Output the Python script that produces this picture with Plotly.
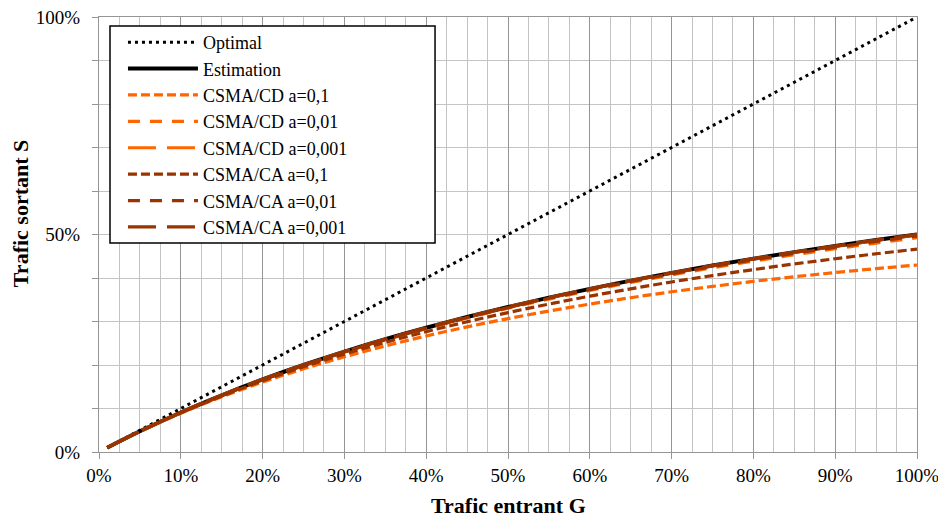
import plotly.graph_objects as go

# --- data ---
G = [0.01, 0.05, 0.10, 0.15, 0.20, 0.25, 0.30, 0.35, 0.40, 0.45, 0.50,
     0.55, 0.60, 0.65, 0.70, 0.75, 0.80, 0.85, 0.90, 0.95, 1.00]

optimal = [0.01, 0.05, 0.10, 0.15, 0.20, 0.25, 0.30, 0.35, 0.40, 0.45, 0.50,
           0.55, 0.60, 0.65, 0.70, 0.75, 0.80, 0.85, 0.90, 0.95, 1.00]

estimation = [0.0099, 0.0476, 0.0909, 0.1304, 0.1667, 0.2000, 0.2308, 0.2593, 0.2857, 0.3103, 0.3333,
              0.3548, 0.3750, 0.3939, 0.4118, 0.4286, 0.4444, 0.4595, 0.4737, 0.4872, 0.5000]

cd_01 = [0.0099, 0.0472, 0.0892, 0.1268, 0.1607, 0.1912, 0.2188, 0.2439, 0.2667, 0.2876, 0.3066,
         0.3240, 0.3400, 0.3547, 0.3683, 0.3807, 0.3922, 0.4028, 0.4125, 0.4215, 0.4299]
cd_001 = [0.0099, 0.0476, 0.0907, 0.1300, 0.1661, 0.1991, 0.2295, 0.2577, 0.2837, 0.3079, 0.3304,
          0.3515, 0.3713, 0.3897, 0.4071, 0.4235, 0.4388, 0.4534, 0.4672, 0.4802, 0.4925]
cd_0001 = [0.0099, 0.0476, 0.0909, 0.1304, 0.1666, 0.1999, 0.2307, 0.2591, 0.2855, 0.3101, 0.3330,
           0.3545, 0.3746, 0.3935, 0.4113, 0.4281, 0.4438, 0.4589, 0.4730, 0.4865, 0.4992]

ca_01 = [0.0099, 0.0474, 0.0901, 0.1287, 0.1638, 0.1958, 0.2250, 0.2519, 0.2766, 0.2994, 0.3205,
         0.3400, 0.3582, 0.3751, 0.3909, 0.4056, 0.4193, 0.4323, 0.4443, 0.4557, 0.4664]
ca_001 = [0.0099, 0.0476, 0.0908, 0.1302, 0.1664, 0.1996, 0.2302, 0.2585, 0.2848, 0.3092, 0.3320,
          0.3533, 0.3733, 0.3919, 0.4096, 0.4262, 0.4418, 0.4567, 0.4706, 0.4839, 0.4965]
ca_0001 = [0.0099, 0.0476, 0.0909, 0.1304, 0.1667, 0.2000, 0.2307, 0.2592, 0.2856, 0.3102, 0.3332,
           0.3547, 0.3748, 0.3937, 0.4116, 0.4284, 0.4441, 0.4592, 0.4734, 0.4869, 0.4996]

ORANGE = "#FF6600"
BROWN = "#993300"
FONT = "Liberation Serif"

series = [
    ("Optimal", optimal, "black", 3, "3px,4px"),
    ("Estimation", estimation, "black", 4, "solid"),
    ("CSMA/CD a=0,1", cd_01, ORANGE, 3.2, "9px,4px"),
    ("CSMA/CD a=0,01", cd_001, ORANGE, 3.2, "12px,10px"),
    ("CSMA/CD a=0,001", cd_0001, ORANGE, 3.2, "28px,11px"),
    ("CSMA/CA a=0,1", ca_01, BROWN, 3.2, "9px,4px"),
    ("CSMA/CA a=0,01", ca_001, BROWN, 3.2, "12px,10px"),
    ("CSMA/CA a=0,001", ca_0001, BROWN, 3.2, "28px,11px"),
]

fig = go.Figure()
for name, ys, color, width, dash in series:
    fig.add_trace(go.Scatter(
        x=G, y=ys, name=name, mode="lines", line_shape="spline",
        line=dict(color=color, width=width, dash=dash),
    ))

# the page body adds an 8px offset, so the figure is 8px smaller than the window
fig.update_layout(
    width=938, height=512,
    margin=dict(l=91, r=29, t=9, b=68),
    paper_bgcolor="white", plot_bgcolor="white",
    font=dict(family=FONT, size=19, color="black"),
    showlegend=True,
    legend=dict(
        x=0.0293, y=0.984, xanchor="left", yanchor="top",
        bgcolor="rgba(0,0,0,0)", borderwidth=0,
        font=dict(family=FONT, size=18, color="black"),
        itemwidth=70, tracegroupgap=0,
    ),
    # legend box
    shapes=[
        dict(type="rect", xref="paper", yref="paper",
             x0=0.01345, x1=0.4108, y0=0.4805, y1=0.9793,
             fillcolor="white", line=dict(color="black", width=1.5), layer="above"),
    ],
    annotations=[
        dict(text="<b>Trafic entrant G</b>", xref="paper", yref="paper",
             x=0.5, y=-0.122, xanchor="center", yanchor="middle",
             showarrow=False, font=dict(family=FONT, size=22)),
        dict(text="<b>Trafic sortant S</b>", xref="paper", yref="paper",
             x=-0.0966, y=0.549, xanchor="center", yanchor="middle",
             textangle=-90, showarrow=False, font=dict(family=FONT, size=22)),
    ],
)

fig.update_xaxes(
    range=[0, 1], dtick=0.1, tick0=0, tickformat=".0%", automargin=False,
    showgrid=True, gridcolor="#959595", gridwidth=1.3,
    minor=dict(dtick=0.025, showgrid=True, gridcolor="#C4C4C4", gridwidth=1.3),
    ticks="outside", ticklen=6, tickcolor="#959595", ticklabeloverflow="allow",
    showline=True, linecolor="#959595", linewidth=1.3, mirror=True,
    zeroline=False, tickfont=dict(family=FONT, size=19),
)
fig.update_yaxes(
    range=[0, 1], dtick=0.5, tick0=0, tickformat=".0%", automargin=False,
    showgrid=True, gridcolor="#C4C4C4", gridwidth=1.3,
    minor=dict(dtick=0.1, showgrid=True, gridcolor="#C4C4C4", gridwidth=1.3,
               ticks="outside", ticklen=6, tickcolor="#959595"),
    ticks="outside", ticklen=6, tickcolor="#959595", ticklabelstandoff=8,
    ticklabeloverflow="allow",
    showline=True, linecolor="#959595", linewidth=1.3, mirror=True,
    zeroline=False, tickfont=dict(family=FONT, size=19),
)

fig.write_html("out.html")
